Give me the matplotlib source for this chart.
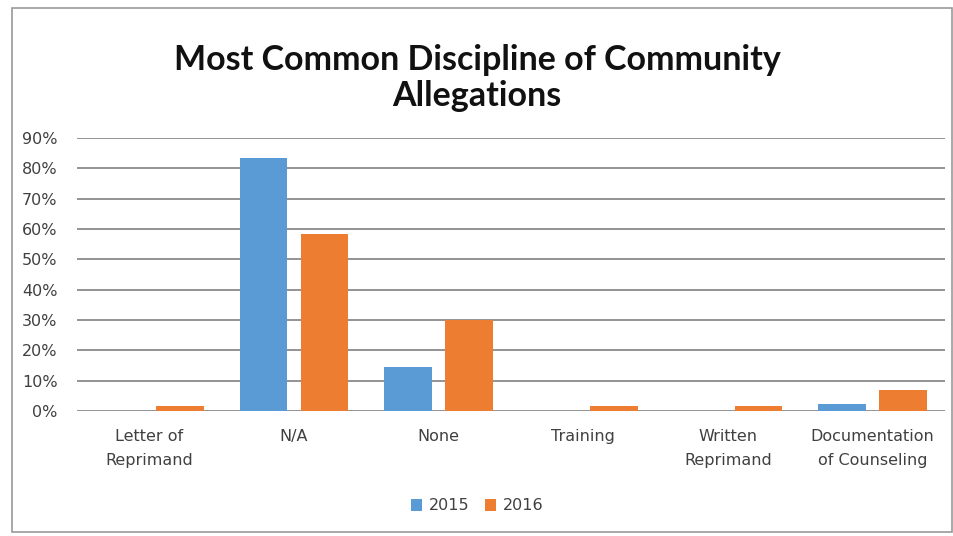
import numpy as np
import matplotlib
matplotlib.use("Agg")
import matplotlib.pyplot as plt
from matplotlib.patches import Rectangle

categories = ["Letter of\nReprimand", "N/A", "None", "Training",
              "Written\nReprimand", "Documentation\nof Counseling"]
vals_2015 = [0.0, 83.5, 14.5, 0.0, 0.0, 2.2]
vals_2016 = [1.6, 58.4, 30.0, 1.7, 1.7, 6.9]
series_labels = ["2015", "2016"]
colors = ["#5B9BD5", "#ED7D31"]

plt.rcParams["font.family"] = ["DejaVu Sans"]

fig = plt.figure(figsize=(9.54, 5.36), dpi=100)
fig.patches.append(Rectangle((12 / 954, 4 / 536), 940 / 954, 524 / 536,
                             transform=fig.transFigure, fill=False,
                             edgecolor="#9a9a9a", linewidth=1.2))
ax = fig.add_axes([77 / 954, 1 - 411 / 536, (945 - 77) / 954, (411 - 138) / 536])

x = np.arange(len(categories))
w = 0.33
ax.bar(x - 0.21, vals_2015, w, color=colors[0], label=series_labels[0], zorder=3)
ax.bar(x + 0.21, vals_2016, w, color=colors[1], label=series_labels[1], zorder=3)

ax.set_xlim(-0.5, len(categories) - 0.5)
ax.set_ylim(0, 90)
ax.set_yticks(np.arange(0, 91, 10))
ax.set_yticklabels([f"{v}%" for v in range(0, 91, 10)])
ax.set_xticks(x)
ax.set_xticklabels(categories, linespacing=1.75)
ax.tick_params(axis="both", length=0, labelsize=11.5, colors="#404040")
ax.tick_params(axis="x", pad=13)
ax.tick_params(axis="y", pad=14)
ax.grid(axis="y", color="#8a8a8a", linewidth=1.3, zorder=0)
for s in ax.spines.values():
    s.set_visible(False)

fig.text(0.5, 1 - 78 / 536, "Most Common Discipline of Community\nAllegations",
         ha="center", va="center", fontsize=24.5, fontweight="bold",
         family=["Lato", "DejaVu Sans"], linespacing=1.12, color="#111111")

ax.legend(loc="center", bbox_to_anchor=(0.5, 1 - 506 / 536), bbox_transform=fig.transFigure,
          ncol=2, frameon=False, fontsize=11.5, handlelength=0.7, handleheight=0.7,
          columnspacing=1.0, handletextpad=0.4, labelcolor="#404040")

plt.savefig("out.png", dpi=100)
plt.close()
